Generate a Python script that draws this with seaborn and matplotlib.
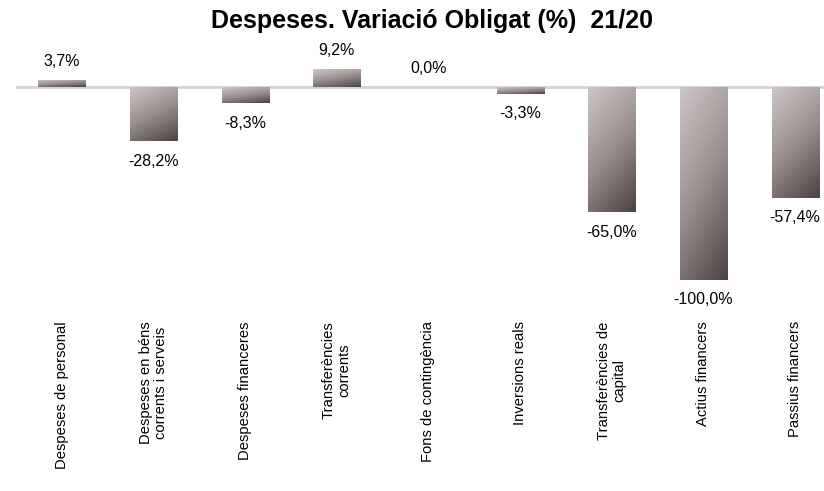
import numpy as np
import pandas as pd
import matplotlib
matplotlib.use("Agg")
import matplotlib.pyplot as plt
from matplotlib.colors import LinearSegmentedColormap
import seaborn as sns

# chart data
categories = ["Despeses de personal", "Despeses en béns\ncorrents i serveis",
              "Despeses financeres", "Transferències\ncorrents",
              "Fons de contingència", "Inversions reals",
              "Transferències de\ncapital", "Actius financers", "Passius financers"]
variation = [3.7, -28.2, -8.3, 9.2, 0.0, -3.3, -65.0, -100.0, -57.4]
title = "Despeses. Variació Obligat (%)  21/20"

df = pd.DataFrame({"cat": categories, "val": variation})

sns.set_style("white")
plt.rcParams['font.family'] = ['Liberation Sans', 'DejaVu Sans']
plt.rcParams['text.color'] = 'black'
plt.rcParams['xtick.color'] = 'black'

W, H = 824, 491
fig = plt.figure(figsize=(W / 100, H / 100), dpi=100)
# axes in pixel terms: left 16, right 824, top 39, bottom 299
ax = fig.add_axes([16 / W, (H - 299) / H, (W - 16) / W, 260 / H])

sns.barplot(data=df, x="cat", y="val", ax=ax, width=0.515, color="#8a8080",
            edgecolor="none", linewidth=0)

ax.set_ylim(-110, 25)
ax.set_xlim(-0.5, 8.5 - 17 / 91.7)

# gradient fill (light top-left to dark bottom-right), clipped to each bar
cmap = LinearSegmentedColormap.from_list("g", ["#cdc6c6", "#9a8f8f", "#4d4343"])
gx, gy = np.meshgrid(np.linspace(0, 1, 40), np.linspace(0, 1, 80))
grad = 0.3 * gx + 0.7 * gy
for p in ax.patches:
    x0, y0 = p.get_x(), p.get_y()
    w, h = p.get_width(), p.get_height()
    if h == 0:
        continue
    top, bot = max(y0, y0 + h), min(y0, y0 + h)
    im = ax.imshow(grad, cmap=cmap, extent=(x0, x0 + w, bot, top), origin="upper",
                   aspect="auto", vmin=0, vmax=1, zorder=2)
    im.set_clip_path(p)
    p.set_facecolor("none")

ax.axhline(0, color="#d4d4d4", lw=2, zorder=1)

for i, v in enumerate(variation):
    txt = f"{v:.1f}%".replace(".", ",")
    if v >= 0:
        ax.annotate(txt, (i, v), xytext=(0, 8), textcoords="offset points",
                    ha="center", va="bottom", fontsize=11.5)
    else:
        ax.annotate(txt, (i, v), xytext=(0, -9), textcoords="offset points",
                    ha="center", va="top", fontsize=11.5)

ax.set_xlabel("")
ax.set_ylabel("")
ax.set_yticks([])
ax.tick_params(axis="x", length=0, pad=16)
ax.set_xticks(range(len(categories)))
ax.set_xticklabels(categories, rotation=90, fontsize=10.6, linespacing=1.15)
sns.despine(ax=ax, left=True, bottom=True)

fig.text(432 / W, 1 - 21 / H, title, ha="center", va="center",
         fontsize=18, fontweight="bold")

fig.savefig("out.png", dpi=100)
